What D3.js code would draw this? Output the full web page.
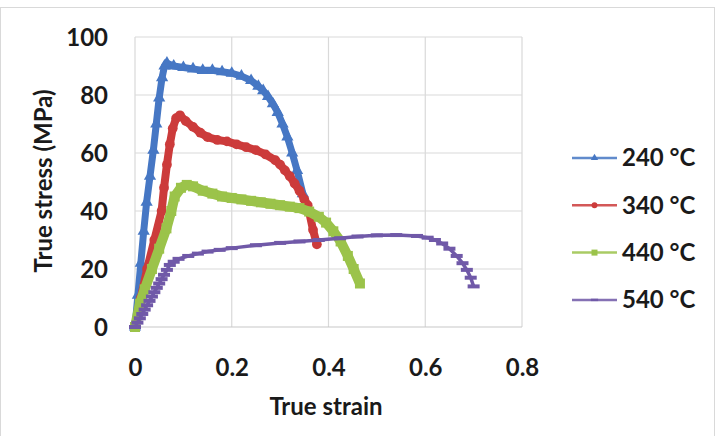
<!DOCTYPE html>
<html lang="en">
<head>
    <meta charset="UTF-8">
    <title>True stress vs true strain</title>
    <style>
        body { margin: 0; background: #fff; font-family: Lato, "Open Sans", Arial, sans-serif; }
        #chart { width: 720px; height: 436px; }
        text { font-weight: 700; fill: #1a1a1a; }
    </style>
    <script src="https://d3js.org/d3.v7.min.js"></script>
</head>
<body>
    <div id="chart"></div>

    <script>
        // Values
        const strain240 = [0, 0.006, 0.012, 0.018, 0.024, 0.031, 0.038, 0.044, 0.05, 0.056, 0.061, 0.066, 0.08, 0.1, 0.12, 0.14, 0.16, 0.18, 0.2, 0.22, 0.24, 0.255, 0.265, 0.275, 0.285, 0.295, 0.305, 0.315, 0.325, 0.335, 0.347];
        const stress240 = [0, 11, 22, 33, 43, 52, 61, 70, 79, 86, 90, 91, 90, 89.5, 89, 88.5, 88.5, 88, 87.5, 86.5, 85, 83, 81.5, 79.5, 77, 74, 70, 65.5, 60, 54, 46];

        const strain340 = [0, 0.012, 0.025, 0.04, 0.055, 0.06, 0.066, 0.072, 0.078, 0.085, 0.093, 0.105, 0.12, 0.135, 0.15, 0.17, 0.19, 0.21, 0.23, 0.25, 0.27, 0.29, 0.3, 0.31, 0.32, 0.33, 0.34, 0.35, 0.357, 0.368, 0.376];
        const stress340 = [0, 10, 20, 30, 40, 48, 56, 63, 68.5, 72, 73, 71, 69, 67, 65.5, 64.5, 64, 63, 62, 61, 59.5, 57.5, 56, 54, 52, 49.5, 47, 44, 42, 33.5, 28.5];

        const strain440 = [0, 0.01, 0.02, 0.035, 0.05, 0.065, 0.075, 0.082, 0.095, 0.107, 0.12, 0.14, 0.16, 0.18, 0.2, 0.22, 0.24, 0.26, 0.28, 0.3, 0.32, 0.34, 0.36, 0.38, 0.395, 0.41, 0.425, 0.44, 0.452, 0.465];
        const stress440 = [0, 8, 13, 20, 27, 34, 40, 45, 48, 49, 48.5, 47, 46, 45, 44.5, 44, 43.5, 43, 42.5, 42, 41.5, 41, 39.8, 38, 36, 33, 29.5, 24.5, 20, 15];

        const strain540 = [0, 0.005, 0.01, 0.015, 0.02, 0.025, 0.03, 0.035, 0.04, 0.045, 0.05, 0.055, 0.06, 0.066, 0.072, 0.08, 0.09, 0.11, 0.13, 0.15, 0.175, 0.2, 0.25, 0.3, 0.34, 0.38, 0.424, 0.46, 0.5, 0.54, 0.583, 0.605, 0.62, 0.635, 0.65, 0.665, 0.677, 0.686, 0.694, 0.7];
        const stress540 = [0, 1.5, 3, 4.5, 6, 7.5, 9, 10.5, 12, 13.5, 15, 16.5, 18, 19.7, 21.4, 22.5, 23.5, 24.5, 25.3, 26, 26.6, 27.2, 28.2, 29, 29.5, 30, 30.6, 31.2, 31.6, 31.7, 31.4, 30.8, 30, 28.8, 27, 24.5, 22, 19.7, 17, 14];

        const seriesNames = ['240 °C', '340 °C', '440 °C', '540 °C'];
        const xTicks = [0, 0.2, 0.4, 0.6, 0.8];
        const yTicks = [0, 20, 40, 60, 80, 100];

        const series = [
            { name: seriesNames[0], x: strain240, y: stress240, color: '#4677c4', width: 7, marker: 'triangle' },
            { name: seriesNames[1], x: strain340, y: stress340, color: '#cc3b3b', width: 8, marker: 'circle' },
            { name: seriesNames[2], x: strain440, y: stress440, color: '#9bc34a', width: 10, marker: 'square' },
            { name: seriesNames[3], x: strain540, y: stress540, color: '#7059a8', width: 3.5, marker: 'dash' }
        ];

        const svg = d3.select('#chart').append('svg')
            .attr('width', 720)
            .attr('height', 436);

        // outer chart frame
        svg.append('rect')
            .attr('x', 0.5).attr('y', 7.5)
            .attr('width', 714).attr('height', 440)
            .attr('fill', '#fff')
            .attr('stroke', '#d9d9d9');

        const x = d3.scaleLinear().domain([0, 0.8]).range([135, 522]);
        const y = d3.scaleLinear().domain([0, 100]).range([327, 37]);

        // grid
        const grid = svg.append('g');
        grid.selectAll('.vg').data(xTicks).enter().append('line')
            .attr('x1', d => x(d)).attr('x2', d => x(d))
            .attr('y1', y(0)).attr('y2', y(100))
            .attr('stroke', '#d9d9d9').attr('stroke-width', 1.2);
        grid.selectAll('.hg').data(yTicks).enter().append('line')
            .attr('x1', x(0)).attr('x2', x(0.8))
            .attr('y1', d => y(d)).attr('y2', d => y(d))
            .attr('stroke', d => d === 0 ? '#c8c8c8' : '#d9d9d9').attr('stroke-width', 1.2);

        // axes (labels only, Excel style)
        const xAxis = svg.append('g')
            .attr('transform', `translate(0, ${y(0) + 29})`)
            .call(d3.axisBottom(x).tickValues(xTicks).tickSize(0).tickFormat(d3.format('')));
        xAxis.select('.domain').remove();
        xAxis.selectAll('text').attr('font-size', 24).attr('font-family', 'Lato').attr('dy', '0.72em');

        const yAxis = svg.append('g')
            .attr('transform', `translate(108, 0)`)
            .call(d3.axisLeft(y).tickValues(yTicks).tickSize(0).tickPadding(0));
        yAxis.select('.domain').remove();
        yAxis.selectAll('text').attr('font-size', 24).attr('font-family', 'Lato').attr('dy', '0.35em');

        // axis titles
        svg.append('text')
            .attr('x', 326).attr('y', 415)
            .attr('text-anchor', 'middle')
            .attr('font-size', 24)
            .text('True strain');
        svg.append('text')
            .attr('transform', 'translate(52, 181) rotate(-90)')
            .attr('text-anchor', 'middle')
            .attr('font-size', 24)
            .text('True stress (MPa)');

        function drawMarker(g, type, color, scale) {
            if (type === 'dash') {
                g.append('rect')
                    .attr('x', -6 * scale).attr('y', -2 * scale)
                    .attr('width', 12 * scale).attr('height', 4 * scale)
                    .attr('fill', color);
                return;
            }
            const sym = { triangle: d3.symbolTriangle, circle: d3.symbolCircle, square: d3.symbolSquare }[type];
            const size = { triangle: 65, circle: 75, square: 100 }[type];
            g.append('path')
                .attr('d', d3.symbol().type(sym).size(size * scale * scale)())
                .attr('fill', color);
        }

        // series
        const line = d3.line().x(d => x(d[0])).y(d => y(d[1]));
        series.forEach(s => {
            const pts = s.x.map((v, i) => [v, s.y[i]]);
            const g = svg.append('g');
            g.append('path')
                .attr('d', line(pts))
                .attr('fill', 'none')
                .attr('stroke', s.color)
                .attr('stroke-width', s.width)
                .attr('stroke-linejoin', 'round');
            pts.forEach(p => {
                const m = g.append('g').attr('transform', `translate(${x(p[0])}, ${y(p[1])})`);
                drawMarker(m, s.marker, s.color, 1);
            });
        });

        // legend
        const legend = svg.append('g');
        series.forEach((s, i) => {
            const ly = 158 + i * 47.3;
            legend.append('line')
                .attr('x1', 572).attr('x2', 617)
                .attr('y1', ly).attr('y2', ly)
                .attr('stroke', s.color).attr('stroke-width', 2.5).attr('opacity', 0.85);
            const m = legend.append('g').attr('transform', `translate(594.5, ${ly})`);
            drawMarker(m, s.marker, s.color, 0.6);
            legend.append('text')
                .attr('x', 622).attr('y', ly)
                .attr('dy', '0.35em')
                .attr('font-size', 24)
                .text(s.name);
        });
    </script>
</body>
</html>
